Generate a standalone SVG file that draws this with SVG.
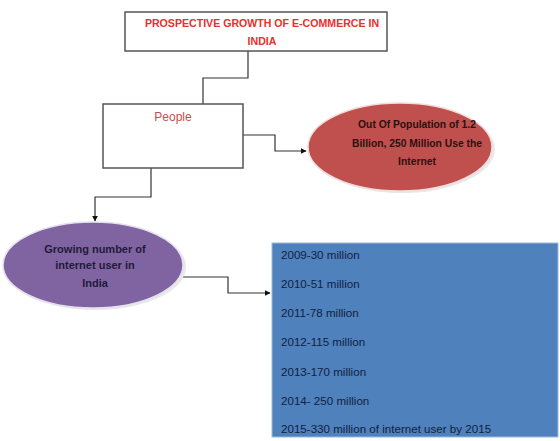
<svg xmlns="http://www.w3.org/2000/svg" width="560" height="441" viewBox="0 0 560 441">
<style>
.box{fill:#fff;stroke:#555;stroke-width:1.5}
.conn{fill:none;stroke:#333;stroke-width:1.2}
.t{font-family:"Liberation Sans",Arial,sans-serif;font-size:9.5px}
.title{fill:#e8302a;font-weight:bold;text-anchor:middle;font-size:10.6px}
.people{fill:#c0504d;text-anchor:middle;font-size:12px}
.dark{fill:#2a1010;font-weight:bold;text-anchor:middle;font-size:10.3px}
.navy{fill:#1f1a3a;font-weight:bold;text-anchor:middle;font-size:11px}
.blue{fill:#0f1f3f;font-size:11.6px}
</style>
<defs>
<marker id="arr" viewBox="0 0 10 10" refX="9" refY="5" markerWidth="5" markerHeight="5" orient="auto">
<path d="M0,0 L10,5 L0,10 z" fill="#111"/>
</marker>
</defs>
<rect width="560" height="441" fill="#fff"/>
<g id="connectors">
<path class="conn" d="M248,51 V78 H203 V104"/>
<path class="conn" d="M243,135 H275 V151 H306" marker-end="url(#arr)"/>
<path class="conn" d="M151,168 V197 H95 V221" marker-end="url(#arr)"/>
<path class="conn" d="M183,277 H228 V293 H270" marker-end="url(#arr)"/>
</g>
<g id="title">
<rect class="box" x="125" y="12" width="262" height="39"/>
<text class="t title" x="262" y="27">PROSPECTIVE GROWTH OF E-COMMERCE IN</text>
<text class="t title" x="262" y="45">INDIA</text>
</g>
<g id="people">
<rect class="box" x="103" y="104" width="140" height="64"/>
<text class="t people" x="173" y="121">People</text>
</g>
<g id="population">
<ellipse cx="402" cy="149" rx="93" ry="44" fill="#d9d9d9" opacity="0.6"/>
<ellipse cx="400" cy="147" rx="92" ry="44" fill="#c0504d" stroke="#f2dcdb" stroke-width="1.5"/>
<text class="t dark" x="417" y="128">Out Of Population of 1.2</text>
<text class="t dark" x="417" y="147">Billion, 250 Million Use the</text>
<text class="t dark" x="417" y="165">Internet</text>
</g>
<g id="growing">
<ellipse cx="95" cy="267" rx="91" ry="43" fill="#d9d9d9" opacity="0.6"/>
<ellipse cx="93" cy="265" rx="90" ry="43" fill="#8064a2" stroke="#e5e0ec" stroke-width="1.5"/>
<text class="t navy" x="95" y="253">Growing number of</text>
<text class="t navy" x="95" y="269">internet user in</text>
<text class="t navy" x="95" y="287">India</text>
</g>
<g id="stats">
<rect x="272" y="243" width="286" height="194" fill="#4f81bd" stroke="#9cb8dc" stroke-width="1"/>
<text class="t blue" x="281" y="259">2009-30 million</text>
<text class="t blue" x="281" y="288">2010-51 million</text>
<text class="t blue" x="281" y="317">2011-78 million</text>
<text class="t blue" x="281" y="346">2012-115 million</text>
<text class="t blue" x="281" y="376">2013-170 million</text>
<text class="t blue" x="281" y="405">2014- 250 million</text>
<text class="t blue" x="281" y="433">2015-330 million of internet user by 2015</text>
</g>
</svg>
